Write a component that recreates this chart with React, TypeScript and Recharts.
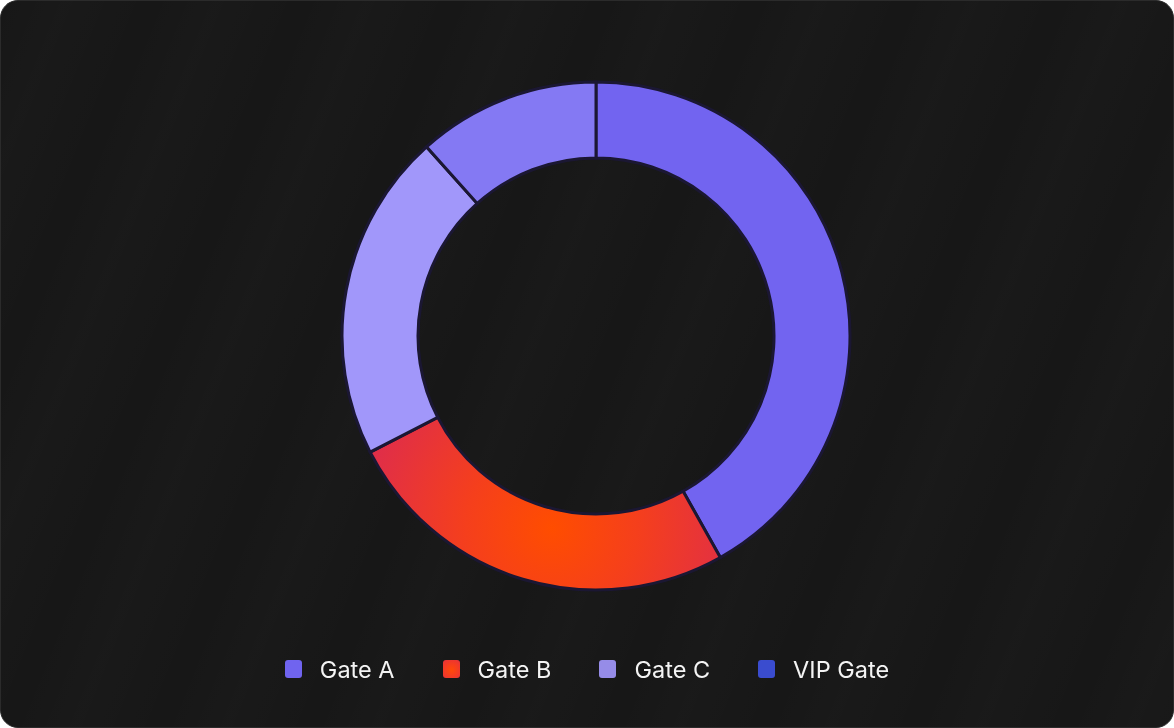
import React from 'react';
import { PieChart, Pie, Cell, Legend } from 'recharts';

const categories = ['Gate A', 'Gate B', 'Gate C', 'VIP Gate'];
const visitors = [3600, 2200, 1800, 1000];
const sliceColors = ['#7264f0', 'url(#gateBGlow)', '#a197fa', '#8479f3'];
const legendColors = [
  '#7064ef',
  'radial-gradient(circle at 50% 55%, #ff4a08 0%, #f23a26 60%, #e3323e 100%)',
  '#968ce8',
  '#3a4ccf',
];

const data = categories.map((name, i) => ({ name, value: visitors[i] }));

const renderLegend = () => (
  <div
    style={{
      display: 'flex',
      justifyContent: 'center',
      alignItems: 'center',
      gap: 48,
      fontFamily: 'Inter, "Noto Sans", sans-serif',
      fontSize: 23.5,
      color: '#f4f4f4',
      height: 30,
    }}
  >
    {categories.map((c, i) => (
      <div key={c} style={{ display: 'flex', alignItems: 'center' }}>
        <span
          style={{
            display: 'inline-block',
            width: 17,
            height: 18,
            borderRadius: 3,
            background: legendColors[i],
            marginRight: 18,
          }}
        />
        <span>{c}</span>
      </div>
    ))}
  </div>
);

export default function App() {
  return (
    <div
      style={{
        position: 'fixed',
        left: 0,
        top: 0,
        width: 1174,
        height: 728,
        boxSizing: 'border-box',
        borderRadius: 18,
        border: '1px solid #2b2b2b',
        background:
          'repeating-linear-gradient(112deg, rgba(255,255,255,0.0) 0px, rgba(255,255,255,0.012) 60px, rgba(255,255,255,0.0) 140px), #171717',
        overflow: 'hidden',
      }}
    >
      <div style={{ position: 'absolute', left: -1, top: -1 }}>
        <PieChart width={1174} height={728} margin={{ top: 0, right: 0, bottom: 0, left: 0 }}>
          <defs>
            <radialGradient
              id="gateBGlow"
              gradientUnits="userSpaceOnUse"
              cx={552}
              cy={528}
              r={190}
            >
              <stop offset="0%" stopColor="#ff4d00" />
              <stop offset="45%" stopColor="#f53f1c" />
              <stop offset="100%" stopColor="#e02e48" />
            </radialGradient>
          </defs>
          <Pie
            data={data}
            dataKey="value"
            nameKey="name"
            cx={596}
            cy={336}
            innerRadius={178}
            outerRadius={254}
            startAngle={90}
            endAngle={-270}
            stroke="#1b1733"
            strokeWidth={3}
            isAnimationActive={false}
            labelLine={false}
          >
            {data.map((d, i) => (
              <Cell key={d.name} fill={sliceColors[i]} />
            ))}
          </Pie>
          <Legend
            content={renderLegend}
            wrapperStyle={{ position: 'absolute', left: 0, top: 654, width: 1174 }}
          />
        </PieChart>
      </div>
    </div>
  );
}
